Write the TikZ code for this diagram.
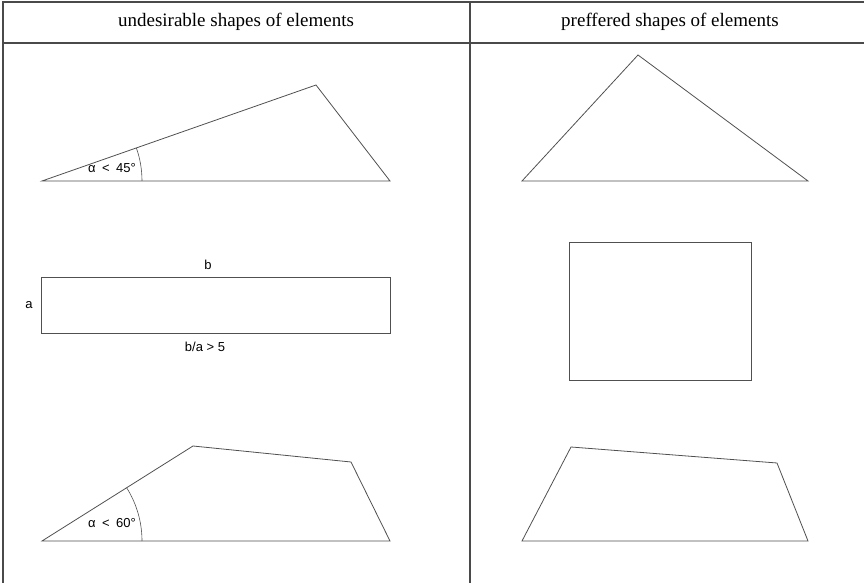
\documentclass[tikz,border=0pt]{standalone}
\usepackage{fontspec}
\usepackage{xcolor}
\usepackage{tikz}
\setmainfont{Liberation Serif}
\newfontfamily\labelfont{Liberation Sans}
\definecolor{frameGray}{HTML}{4A4A4A}
\definecolor{edgeGray}{HTML}{505050}

\begin{document}
\begin{tikzpicture}[x=1pt, y=1pt,
    tableline/.style={draw=frameGray, line width=1.6pt},
    elemshape/.style={draw=edgeGray, line width=0.8pt, line join=miter},
    anglemark/.style={draw=edgeGray, line width=0.6pt},
    headtext/.style={font=\fontsize{19}{22}\selectfont, text=black, inner sep=0pt},
    dimlabel/.style={font=\labelfont\fontsize{13}{15}\selectfont, text=black, inner sep=1pt}]

    \useasboundingbox (0,0) rectangle (864,583);

    % table frame
    \draw[tableline] (864,581) -- (3,581) -- (3,0);
    \draw[tableline] (3,540) -- (864,540);
    \draw[tableline] (470,581) -- (470,0);

    \node (hbad) [headtext] at (236,561) {undesirable shapes of elements};
    \node (hgood) [headtext] at (670,561) {preffered shapes of elements};

    % triangles
    \draw[elemshape] (42,402) -- (390,402) -- (316,498) -- cycle;
    \draw[anglemark] (142,402) arc[start angle=0, end angle=19.3, radius=100];
    \node (tri1) [dimlabel] at (112,415) {α\enspace<\enspace45°};
    \draw[elemshape] (522,402) -- (808,402) -- (638,528) -- cycle;

    % rectangles
    \draw[elemshape] (41,250) rectangle (390,306);
    \node (rb) [dimlabel] at (208,318) {b};
    \node (ra) [dimlabel] at (29,278) {a};
    \node (rba) [dimlabel] at (205,236) {b/a > 5};
    \draw[elemshape] (569,203) rectangle (751,341);

    % quadrilaterals
    \draw[elemshape] (42,42) -- (390,42) -- (351,121) -- (193,137) -- cycle;
    \draw[anglemark] (142,42) arc[start angle=0, end angle=32.2, radius=100];
    \node (quad1) [dimlabel] at (112,60) {α\enspace<\enspace60°};
    \draw[elemshape] (522,42) -- (808,42) -- (777,120) -- (571,136) -- cycle;

\end{tikzpicture}
\end{document}
